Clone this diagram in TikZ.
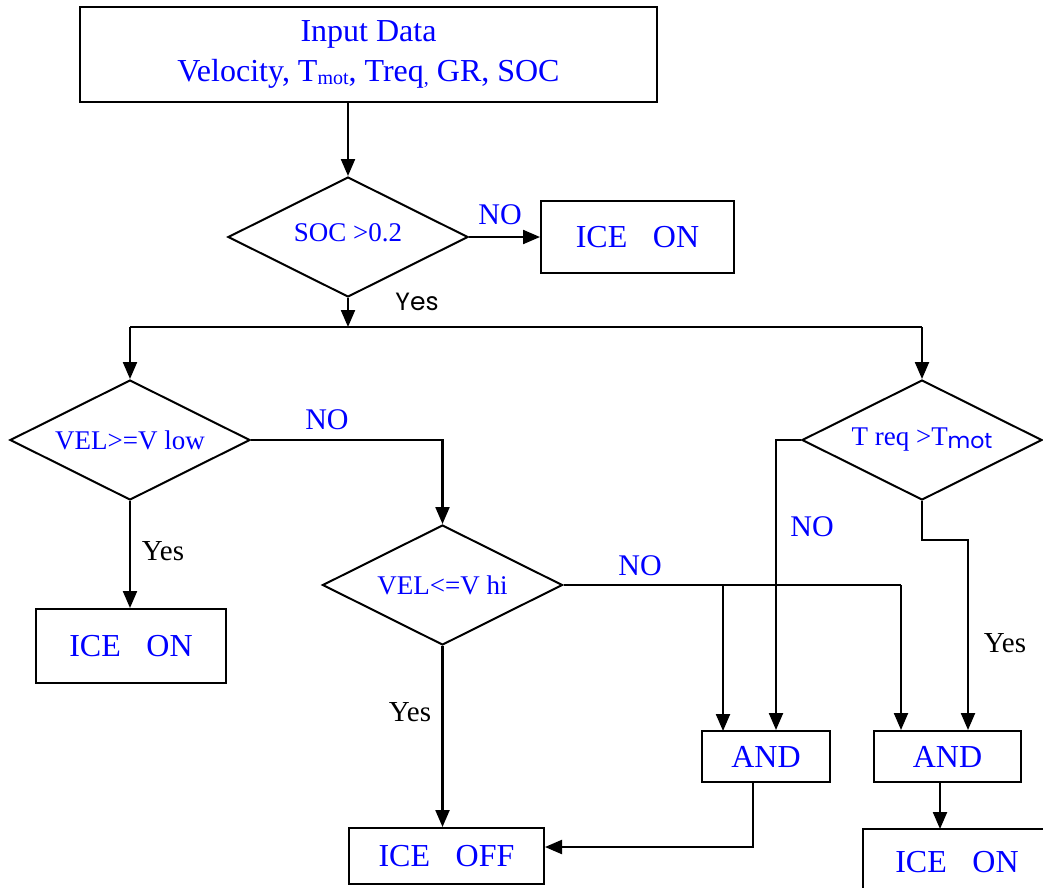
\documentclass[tikz,border=0pt]{standalone}
\usepackage{fontspec}
\setmainfont{Liberation Serif}
\newfontfamily\gothic{Poppins}
\usetikzlibrary{shapes.geometric,arrows.meta}

\tikzset{
  block/.style={draw, line width=2pt, text=blue, inner sep=0pt, align=center,
    font=\fontsize{32}{37}\selectfont},
  decision/.style={diamond, draw, line width=2pt, aspect=2, inner sep=0pt,
    minimum width=240pt, minimum height=120pt, text=blue,
    font=\fontsize{27}{30}\selectfont},
  flow/.style={line width=2.2pt, -{Triangle[length=17pt,width=14pt]}},
  link/.style={line width=2.2pt},
  nolab/.style={text=blue, inner sep=0pt, font=\fontsize{30}{34}\selectfont},
  yeslab/.style={inner sep=0pt, font=\fontsize{29}{34}\selectfont}
}
\newcommand{\icegap}{\hspace{0.8em}}

\begin{document}
\begin{tikzpicture}[x=1pt,y=-1pt]
  \useasboundingbox (0,0) rectangle (1043,887);

  % boxes
  \node[block, minimum width=577pt, minimum height=95pt] (input) at (368.5,54.5)
    {\raisebox{3pt}{Input Data}\\Velocity, T\raisebox{-3pt}{\fontsize{20}{22}\selectfont mot},
     Treq\raisebox{-3pt}{\fontsize{20}{22}\selectfont ,} GR, SOC};
  \node[block, minimum width=193pt, minimum height=72pt] (iceonA) at (637.5,237) {ICE\icegap ON};
  \node[block, minimum width=190pt, minimum height=74pt] (iceonB) at (131,646) {ICE\icegap ON};
  \node[block, minimum width=195pt, minimum height=56pt] (iceoff) at (446.5,856) {ICE\icegap OFF};
  \node[block, minimum width=128pt, minimum height=51pt] (and1) at (766,756.5) {AND};
  \node[block, minimum width=147pt, minimum height=51pt] (and2) at (947.5,756.5) {AND};
  \node[block, minimum width=200pt, minimum height=70pt, text depth=0pt] (iceonC) at (963,864)
    {\raisebox{4pt}{ICE\icegap ON\hspace{12pt}}};

  % decisions
  \node[decision] (soc) at (348,237) {\raisebox{8pt}{SOC >0.2}};
  \node[decision] (vlow) at (130,440) {VEL>=V low};
  \node[decision] (vhi) at (442.5,585) {VEL<=V hi};
  \node[decision] (treq) at (922,440)
    {\raisebox{-4pt}{T req >T{\gothic\fontsize{22}{24}\selectfont\raisebox{-3pt}{mot}}}};

  % junctions
  \coordinate (split) at (348,327);
  \coordinate (hiNo) at (901,585);
  \coordinate (reqNo) at (776,440);
  \coordinate (reqYes) at (968,540);
  \coordinate (andOut) at (753,847);

  % connectors
  \draw[flow] (soc.north |- input.south) -- (soc.north);
  \draw[flow] (soc.east) -- (iceonA.west);
  \draw[flow] (soc.south) -- (split);
  \draw[link] (vlow.north |- split) -- (treq.north |- split);
  \draw[flow] (vlow.north |- split) -- (vlow.north);
  \draw[flow] (treq.north |- split) -- (treq.north);
  \draw[flow] (vlow.east) -| (vhi.north);
  \draw[flow] (vlow.south) -- (vlow.south |- iceonB.north);
  \draw[flow] (vhi.south) -- (vhi.south |- iceoff.north);
  \draw[link] (vhi.east) -- (hiNo);
  \draw[flow] (hiNo) -- (hiNo |- and2.north);
  \draw[flow] (723,585) -- (723,731);
  \draw[flow] (treq.west) -- (reqNo) -- (reqNo |- and1.north);
  \draw[flow] (treq.south) |- (reqYes) -- (reqYes |- and2.north);
  \draw[flow] (andOut |- and1.south) -- (andOut) -- (andOut -| iceoff.east);
  \draw[flow] (940,782) -- (940,829);

  % labels
  \node[nolab] (noA) at (500,215) {NO};
  \node[nolab] (noB) at (327,420) {NO};
  \node[nolab] (noC) at (640,566) {NO};
  \node[nolab] (noD) at (812,527) {NO};
  \node[inner sep=0pt, font=\gothic\fontsize{25}{28}\selectfont] (yesA) at (417,302) {Yes};
  \node[yeslab] (yesB) at (163,551) {Yes};
  \node[yeslab] (yesC) at (410,712) {Yes};
  \node[yeslab] (yesD) at (1005,643) {Yes};
\end{tikzpicture}
\end{document}
